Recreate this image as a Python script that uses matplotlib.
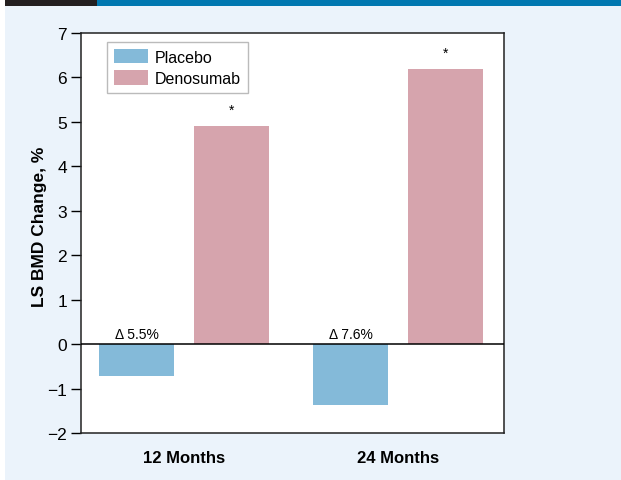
import numpy as np
import matplotlib.pyplot as plt
from matplotlib.patches import Rectangle

plt.rcParams['font.family'] = ['Liberation Sans', 'DejaVu Sans']
plt.rcParams['axes.unicode_minus'] = True

periods = ["12 Months", "24 Months"]
placebo = [-0.71, -1.37]
denosumab = [4.91, 6.19]
deltas = ["\u0394 5.5%", "\u0394 7.6%"]
yticks = [-2, -1, 0, 1, 2, 3, 4, 5, 6, 7]

W, H = 621, 481
fig = plt.figure(figsize=(W / 100, H / 100), dpi=100, facecolor="white")

# panel background and header strip, kept behind the axes
fig.patches.append(Rectangle((5 / W, 0), 1, 1 - 7 / H, transform=fig.transFigure,
                             facecolor="#EBF3FB", edgecolor="none", zorder=-10))
fig.patches.append(Rectangle((5 / W, 1 - 7 / H), 92 / W, 7 / H, transform=fig.transFigure,
                             facecolor="#231F20", edgecolor="none", zorder=-10))
fig.patches.append(Rectangle((97 / W, 1 - 7 / H), 1, 7 / H, transform=fig.transFigure,
                             facecolor="#0077B0", edgecolor="none", zorder=-10))

ax = fig.add_axes([81 / W, 1 - 434 / H, (504 - 81) / W, (434 - 34) / H])
ax.set_facecolor("white")

x = np.arange(len(periods))
w = 0.351
off = 0.222
ax.bar(x - off, placebo, w, color="#84BAD9", label="Placebo", zorder=2)
ax.bar(x + off, denosumab, w, color="#D6A4AD", label="Denosumab", zorder=2)
ax.axhline(0, color="black", lw=1.1, zorder=3)

for i in range(len(periods)):
    ax.text(x[i] - off, 0.08, deltas[i], ha="center", va="bottom", fontsize=10)
    ax.text(x[i] + off, denosumab[i] + 0.2, "*", ha="center", va="bottom", fontsize=10)

ax.set_xlim(-0.483, 1.496)
ax.set_ylim(-2, 7)
ax.set_yticks(yticks)
ax.set_yticklabels([f"{v}".replace("-", "\u2212") for v in yticks], fontsize=12.5)
ax.set_xticks(x)
ax.set_xticklabels(periods, fontsize=12, fontweight="bold")
ax.tick_params(axis="x", length=0, pad=12)
ax.tick_params(axis="y", length=7, width=1, pad=3)
ax.set_ylabel("LS BMD Change, %", fontsize=12.5, fontweight="bold")
ax.yaxis.set_label_coords(-0.08, 0.519)
for s in ax.spines.values():
    s.set_linewidth(1.1)
    s.set_color("#222222")

leg = ax.legend(loc="upper left", bbox_to_anchor=(0.061, 0.9775), fontsize=11.5,
                frameon=True, fancybox=False, edgecolor="#AAAAAA",
                handlelength=2.1, handleheight=1.0, borderpad=0.45,
                labelspacing=0.35, handletextpad=0.45, borderaxespad=0)
leg.get_frame().set_linewidth(1.0)

fig.savefig("out.png", dpi=100, facecolor=fig.get_facecolor())
